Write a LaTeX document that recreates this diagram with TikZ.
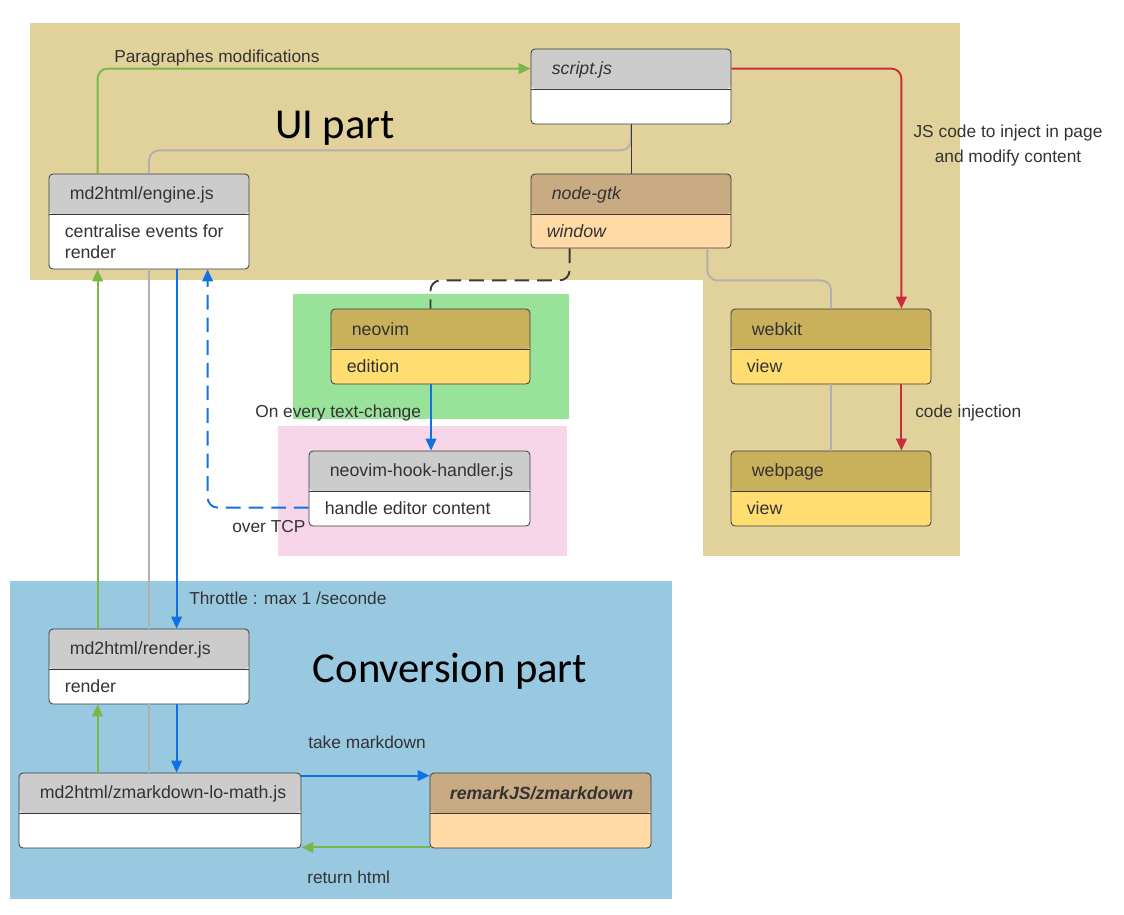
\documentclass[tikz,border=0pt]{standalone}
\usepackage{fontspec}
\setmainfont{Liberation Sans}
\newfontfamily\titlefont{Carlito}
\usetikzlibrary{positioning, arrows.meta, calc}
\definecolor{uiBg}{HTML}{E1D29B}
\definecolor{editBg}{HTML}{99E299}
\definecolor{hookBg}{HTML}{F7D6E9}
\definecolor{convBg}{HTML}{99C9E0}
\definecolor{hdGray}{HTML}{CCCCCC}
\definecolor{hdTan}{HTML}{C9AB83}
\definecolor{bdPeach}{HTML}{FFD9A6}
\definecolor{hdGold}{HTML}{C9B05B}
\definecolor{bdYellow}{HTML}{FFDD71}
\definecolor{edge}{HTML}{3A3A3A}
\definecolor{ink}{HTML}{333333}
\definecolor{accG}{HTML}{7AB648}
\definecolor{accR}{HTML}{C92D39}
\definecolor{accB}{HTML}{1071E5}
\definecolor{wire}{HTML}{B0B0B0}
\tikzset{
  box/.style 2 args={draw=edge, fill=#2, rounded corners=3pt, line width=0.6pt,
                     inner sep=0pt, minimum width=150pt, minimum height=56.25pt,
                     path picture={
                       \fill[#1] (path picture bounding box.north west) rectangle
                         ([yshift=-30pt]path picture bounding box.north east);
                       \draw[edge, line width=0.6pt]
                         ([yshift=-30pt]path picture bounding box.north west) --
                         ([yshift=-30pt]path picture bounding box.north east);}},
  jsbox/.style  ={box={hdGray}{white}},
  libbox/.style ={box={hdTan}{bdPeach}},
  appbox/.style ={box={hdGold}{bdYellow}},
  hdtext/.style ={anchor=west, inner sep=0pt, text=ink, align=left,
                  font=\fontsize{13.3}{15.75}\selectfont},
  hdit/.style   ={hdtext, font=\fontsize{13.3}{15.75}\selectfont\itshape},
  lbl/.style    ={anchor=west, inner sep=0pt, text=ink,
                  font=\fontsize{13}{18.75}\selectfont},
  title/.style  ={inner sep=0pt, font=\titlefont\fontsize{32}{38}\selectfont},
  flow/.style   ={line width=1.4pt, rounded corners=7.5pt,
                  -{Triangle[length=9pt, width=8pt]}},
  link/.style   ={line width=1.4pt, wire, rounded corners=7.5pt},
  tcp/.style    ={flow, accB, dash pattern=on 11pt off 6pt},
}

\begin{document}
\begin{tikzpicture}[x=0.75pt, y=-0.75pt]
\useasboundingbox (0,0) rectangle (1124,914);

% regions
\fill[uiBg] (30,23) rectangle (960,280);
\fill[uiBg] (703,280) rectangle (960,556);
\fill[editBg] (293,294) rectangle (569,419);
\fill[hookBg] (278,426) rectangle (567,556);
\fill[convBg] (10,581) rectangle (672,899);

\node[title] (uiT) at (335,128) {UI part};
\node[title] (convT) at (450,671) {Conversion part};

% boxes
\node[jsbox] (script) at (631,86.5) {};
\node[jsbox, minimum height=71.25pt] (engine) at (149,221.5) {};
\node[libbox, minimum height=55.5pt] (gtk) at (631,211) {};
\node[appbox, minimum width=149.25pt] (neovim) at (430.5,346.5) {};
\node[appbox] (webkit) at (831,346.5) {};
\node[appbox] (webpage) at (831,488.5) {};
\node[jsbox, minimum width=165.75pt] (hook) at (419.5,488.5) {};
\node[jsbox] (render) at (149,666.5) {};
\node[jsbox, minimum width=211.5pt] (lomath) at (160,810.5) {};
\node[libbox, minimum width=165.75pt] (remark) at (540.5,810.5) {};

% box texts
\node[hdit] (script-h) at ([shift={(21,21)}]script.north west) {script.js};
\node[hdtext] (engine-h) at ([shift={(21,21)}]engine.north west) {md2html/engine.js};
\node[hdtext] (engine-b) at ([shift={(16,68)}]engine.north west) {centralise events for\\render};
\node[hdit] (gtk-h) at ([shift={(21,21)}]gtk.north west) {node-gtk};
\node[hdit] (gtk-b) at ([shift={(16,58)}]gtk.north west) {window};
\node[hdtext] (neovim-h) at ([shift={(21,21)}]neovim.north west) {neovim};
\node[hdtext] (neovim-b) at ([shift={(16,58)}]neovim.north west) {edition};
\node[hdtext] (webkit-h) at ([shift={(21,21)}]webkit.north west) {webkit};
\node[hdtext] (webkit-b) at ([shift={(16,58)}]webkit.north west) {view};
\node[hdtext] (webpage-h) at ([shift={(21,21)}]webpage.north west) {webpage};
\node[hdtext] (webpage-b) at ([shift={(16,58)}]webpage.north west) {view};
\node[hdtext] (hook-h) at ([shift={(21,21)}]hook.north west) {neovim-hook-handler.js};
\node[hdtext] (hook-b) at ([shift={(16,58)}]hook.north west) {handle editor content};
\node[hdtext] (render-h) at ([shift={(21,21)}]render.north west) {md2html/render.js};
\node[hdtext] (render-b) at ([shift={(16,58)}]render.north west) {render};
\node[hdtext] (lomath-h) at ([shift={(21,21)}]lomath.north west) {md2html/zmarkdown-lo-math.js};
\node[hdit, font=\fontsize{13.3}{15.75}\selectfont\bfseries\itshape] (remark-h)
  at ([shift={(20,21)}]remark.north west) {remarkJS/zmarkdown};

% anchor points for the connectors
\coordinate (engGreen) at ([shift={(49,0)}]engine.north west);
\coordinate (engGreenB) at ([shift={(49,0)}]engine.south west);
\coordinate (engBlue) at ([shift={(128,0)}]engine.south west);
\coordinate (engTcp) at ([shift={(159,0)}]engine.south west);
\coordinate (rndGreenT) at ([shift={(49,0)}]render.north west);
\coordinate (rndGreenB) at ([shift={(49,0)}]render.south west);
\coordinate (rndBlueT) at ([shift={(128,0)}]render.north west);
\coordinate (rndBlueB) at ([shift={(128,0)}]render.south west);
\coordinate (lmOut) at ([shift={(0,3)}]lomath.north east);
\coordinate (rmOut) at ([shift={(0,-1)}]remark.south west);
\coordinate (nvOut) at ([shift={(0.5,0)}]neovim.south);

% UI part
\draw[flow, accG] (engGreen) |- ([shift={(0,20)}]script.north west);
\draw[flow, accR] ([shift={(0,20)}]script.north east)
  -| ([shift={(-30,0)}]webkit.north east);
\draw[link] (script.south) -- ++(0,26) -| (engine.north);
\draw[edge, line width=0.7pt] (script.south) -- (gtk.north);
\draw[edge, line width=1.4pt, rounded corners=7.5pt, dash pattern=on 11pt off 6pt]
  ([shift={(39,0)}]gtk.south west) -- ++(0,32) -| (neovim.north);
\draw[link] ([shift={(-24,0)}]gtk.south east) -- ++(0,32) -| (webkit.north);
\draw[link] (webkit.south) -- (webpage.north);
\draw[flow, accR] ([shift={(-30,0)}]webkit.south east)
  -- ([shift={(-30,0)}]webpage.north east);
\draw[flow, accB] (nvOut) -- (nvOut |- hook.north);
\draw[tcp] ([shift={(0,57)}]hook.north west) -| (engTcp);

% engine <-> conversion part
\draw[flow, accB] (engBlue) -- (rndBlueT);
\draw[link] (engine.south) -- (render.north);
\draw[link] (render.south) -- (render.south |- lomath.north);
\draw[flow, accG] (rndGreenT) -- (engGreenB);
\draw[flow, accG] (rndGreenB |- lomath.north) -- (rndGreenB);
\draw[flow, accB] (rndBlueB) -- (rndBlueB |- lomath.north);
\draw[flow, accB] (lmOut) -- (lmOut -| remark.west);
\draw[flow, accG] (rmOut) -- (rmOut -| lomath.east);

% connector labels
\node[lbl] (parLbl) at (114,58) {Paragraphes modifications};
\node[lbl, anchor=center, align=center] (jsLbl) at (1008,146)
  {JS code to inject in page\\and modify content};
\node[lbl] (injLbl) at (915,413) {code injection};
\node[lbl] (chgLbl) at (255,413) {On every text-change};
\node[lbl] (tcpLbl) at (232,527) {over TCP};
\node[lbl] (thrLbl) at (189,598) {Throttle : max 1 /seconde};
\node[lbl] (takeLbl) at (308,742) {take markdown};
\node[lbl] (retLbl) at (307,877) {return html};

\end{tikzpicture}
\end{document}
